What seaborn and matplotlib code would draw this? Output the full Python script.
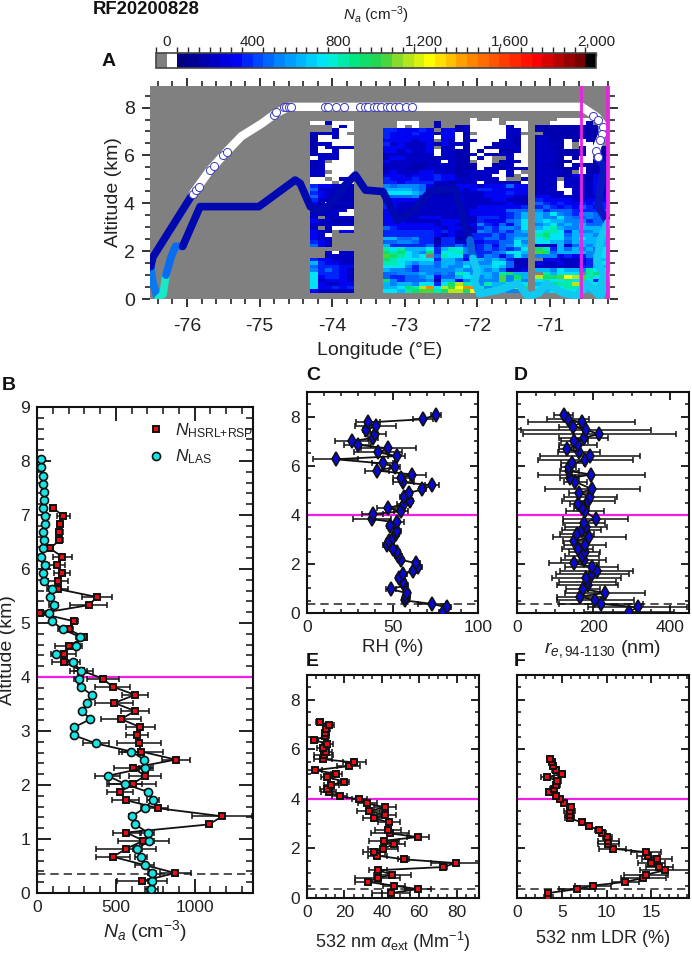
import numpy as np
import pandas as pd
import matplotlib
matplotlib.use("Agg")
import matplotlib.pyplot as plt
from matplotlib.colors import ListedColormap, BoundaryNorm, LinearSegmentedColormap
from matplotlib.lines import Line2D
from matplotlib.ticker import MultipleLocator, FuncFormatter
import seaborn as sns

sns.set_theme(style="ticks")
FONT = "Liberation Sans"
plt.rcParams.update({
    "font.family": [FONT, "DejaVu Sans"],
    "mathtext.fontset": "custom",
    "mathtext.rm": FONT,
    "mathtext.it": FONT + ":italic",
    "mathtext.bf": FONT + ":bold",
    "text.color": "#222222",
    "axes.labelcolor": "#222222",
    "xtick.labelcolor": "#222222",
    "ytick.labelcolor": "#222222",
})

# ------------------------------------------------------------ panel A values
CODE = dict(a=170, b=230, c=300, d=380, e=450, f=530, g=620, h=720, i=800, j=900,
            k=1000, l=1100, m=1200, n=1400, o=1550, w=25)
BLOCK1_LON, BLOCK2_LON, BLOCK3_LON = -74.3, -73.3, -71.2
block1 = """......
wwbwww
...wbw
...bww
abbbw.
awwbww
awwwww
abbwww
awbbbb
awwbww
abbbww
wbbbww
bb.www
abwwww
bbwwww
bb.www
bbwwww
ww.wbb
www.ww
dccbbb
ebbbba
dcbbba
ecbbab
dbbaaa
cawbbb
cbbaaa
cbbbbw
bbbbww
b.bbbb
cbbaaa
bbbbbb
b.bwww
cbb.cc
cbw...
cbb...
dcb...
ecb...
......
..bwbb
..bbbb
dccbbb
gdccbb
edddcc
fdedcb
hdddcb
hcddcb
hbcccb
hcbbcc
hccdcd
cbbbbb""".split("\n")
block2_west = """..........
..www..a..
..w.w..a..
ddcccdc.cc
dcccdccacc
dccccccwcc
ccccbcc.cb
dbcbbbcacb
cccbbbc.bb
ccbcbbcwbb
bbbbbbbwbb
bccbbbbabb
cbbbbbbbwb
bbbbaabbbb
bbbaaabbbb
bcbbbccbbb
cccbcccdcc
dcccdccdcc
ddcddddbba
fefffecabb
ggggfeaaab
hhhhgfbaaa
eeeefcbbab
cccccbbbbb
dcbbbbbbbb
dcbbbbbbbb
ccbbbbbbbb
ccbbbbbbbb
cccbbcccbb
cccbbbbbcc
cccccccbcc
edccccccbc
dddddddcdc
dddddddcbc
ggeefddadd
eeffeddadd
gdddddebdd
ihiggghdgi
jijhgfjdhh
kjihgh.eih
jihhhhhdgg
iihgfggegg
hhhfdffegf
gffedfffff
eefffgfefe
eddeefgcee
jfdeeefagg
gfggfhhdhj
gghjilnhlk
hhgijkkijl""".split("\n")
block2_east = """..w..w....
..wwww.www
abwwwwwbww
abwwwwwbbw
wa.wwwwbb.
wawwwwwbaw
wabwwwbbaw
bawwwabbaw
wawwabbbbw
aawawwaabw
aabwbabbww
aawbw..bww
aa.ww.abbw
aaawwabbww
aaawababbb
abbbbbwbw.
aabbbwwb.w
bbbbbbw..b
bbbwbbbbbw
cccbcccecc
cbcddccccc
bbbbcccdcc
cbbbccccbb
cbbbbccbbb
bbbbbbbcbb
bbbccccccd
bbccccceee
bbcccccdeg
bbbdddcdeg
cbbdcccefh
bbcfdcecfh
cbbdedffeh
bbbfededfg
bbdddedeff
abddeedegg
bbccddeehf
edcdecefhg
hfcdededeh
ifdddefhhg
hdedfecehf
ecggfgfdbb
fggffhheab
fhfgghgebb
gffgfgebbc
ihfggfijgg
ghhfgfkfjg
cfgfffkfif
lihfigghhh
mnnifggilj
ljmfgfgffg""".split("\n")
block3 = """...wwwww..
..wwwwwa..
aaaaaaaaa.
aaaaaaaaa.
.aaaaaaaa.
bbaaaaaaa.
bbaawawaa.
bbbaw.wwa.
bbaaw.awwa
bbbaaaawaa
bbbaaabwaa
bbbawawwab
bbbaawwwab
bbaawaaaab
bbbaaawaac
bbbba.waac
bbbaacbbcc
bbb.bbbacb
bbbwbbbbcc
bbbwbbbbcc
bbbwwbbbcb
bbbbwbbbcb
ccbbbbbbbc
dccccbbccc
edcdccdcdd
dedcdcedcd
fdeeedddde
gfhfedffee
gffhfeefee
ghggfffdee
fghfgfgeef
ghigffgggf
hiihdgffge
ijhhegggfg
hihhfghggg
hhggeggggg
babgbegfgg
jidgegfgeh
kjeggggffh
fffcdcdfgh
.ccbbbcdfg
cbbcbbcdgh
bbbbbbddgg
ggfhggfihh
.ighhh.ijh
ljjkmlkihh
hihhihkhde
ghjiilnhhg
hhghiinfhg
gghhhhhggg""".split("\n")

# flight track waypoints (lon, alt) grouped by drawn value
track_cyan_w = ([-76.40, -76.33, -76.29], [0.0, 0.2, 1.0])
track_blue_w = ([-76.41, -76.47, -76.50], [0.05, 0.7, 1.35])
track_blue_e = ([-76.29, -76.22, -76.16, -76.06], [1.0, 1.75, 2.2, 2.2])
track_navy_up = ([-76.50, -76.47, -75.92], [1.35, 1.75, 4.4])
track_white = ([-75.92, -75.68, -75.44, -75.25, -74.97, -74.78, -74.6, -70.56, -70.35, -70.27, -70.27, -70.35, -70.35],
               [4.4, 5.4, 6.2, 6.8, 7.33, 7.75, 8.03, 8.03, 7.6, 7.26, 6.9, 6.35, 5.95])
track_navy_low = ([-76.06, -75.82, -75.01, -74.82, -74.51, -74.44, -74.3, -74.16, -74.01, -73.82, -73.68,
                   -73.54, -73.3, -73.1, -72.87, -72.63, -72.3, -72.16, -72.1],
                  [2.2, 3.86, 3.86, 4.28, 4.97, 4.83, 3.86, 3.65, 4.0, 4.76, 5.18,
                   4.55, 4.49, 3.3, 3.72, 4.55, 4.6, 3.0, 2.47])
track_mid = ([-72.1, -72.06], [2.47, 1.7])
track_cyan = ([-72.06, -72.0, -72.04, -71.97, -71.73, -71.44, -71.3, -71.15, -71.05, -70.82, -70.63, -70.49, -70.3, -70.2],
              [1.7, 1.15, 0.75, 0.22, 0.35, 0.65, 0.1, 0.25, 0.65, 0.25, 0.12, 0.65, 0.1, 1.0])
track_east_navy = ([-70.35, -70.25, -70.3, -70.33, -70.2], [5.95, 5.5, 4.7, 3.86, 3.2])
track_east_cyan = ([-70.2, -70.3, -70.35, -70.25, -70.35], [3.2, 2.5, 1.6, 0.95, 0.25])
ring_lon = [-74.66, -74.63, -74.6, -74.57, -74.1, -74.06, -73.95, -73.83, -73.62, -73.55, -73.5, -73.42, -73.38,
            -73.33, -73.25, -73.2, -73.13, -73.08, -72.98, -72.9, -75.92, -75.88, -75.83, -75.68, -75.63, -75.5, -75.45, -74.8, -74.77,
            -70.4, -70.33, -70.27, -70.28, -70.31, -70.36, -70.34]
ring_alt = [8.03, 8.03, 8.03, 8.03, 8.03, 8.03, 8.03, 8.03, 8.03, 8.03, 8.03, 8.03, 8.03,
            8.03, 8.03, 8.03, 8.03, 8.03, 8.03, 8.03, 4.4, 4.55, 4.7, 5.4, 5.55, 6.0, 6.15, 7.7, 7.8,
            7.65, 7.5, 7.2, 6.9, 6.65, 6.2, 5.95]
flip_lons = [-70.57, -70.21]
cbar_ticks = [0, 400, 800, 1200, 1600, 2000]
marker_alt_line, boundary_alt = 4.0, 0.36

# ------------------------------------------------------------ panel B values
las_alt = [0.07, 0.22, 0.37, 0.52, 0.67, 0.82, 0.97, 1.12, 1.27, 1.42, 1.57, 1.72, 1.87, 2.02, 2.17, 2.32, 2.47, 2.62,
           2.77, 2.92, 3.07, 3.22, 3.37, 3.52, 3.67, 3.82, 3.97, 4.12, 4.27, 4.42, 4.57, 4.74, 4.88, 5.03, 5.18, 5.33,
           5.48, 5.63, 5.78, 5.93, 6.08, 6.23, 6.38, 6.53, 6.68, 6.83, 6.98, 7.13, 7.28, 7.43, 7.58, 7.73, 7.88, 8.03]
las_val = [725, 731, 731, 684, 660, 637, 712, 701, 624, 600, 682, 735, 705, 557, 449, 686, 680, 598,
           374, 234, 237, 338, 286, 320, 346, 277, 264, 277, 230, 120, 245, 275, 166, 95, 73, 105,
           80, 92, 43, 41, 52, 26, 37, 45, 41, 50, 52, 41, 45, 43, 39, 41, 26, 28]
las_err = [40, 25, 25, 60, 40, 30, 30, 40, 15, 15, 20, 40, 20, 110, 80, 40, 15, 60,
           85, 15, 15, 15, 15, 15, 15, 20, 30, 40, 40, 15, 30, 30, 30, 10, 10, 30,
           8, 8, 8, 8, 20, 8, 8, 8, 8, 8, 8, 8, 5, 5, 5, 5, 5, 5]
hsrl_alt = [0.22, 0.37, 0.67, 0.82, 0.97, 1.12, 1.27, 1.42, 1.57, 1.72, 1.87, 2.02, 2.17, 2.32, 2.47, 2.62, 2.77, 2.92,
            3.07, 3.22, 3.37, 3.52, 3.67, 3.82, 3.97, 4.12, 4.27, 4.42, 4.57, 4.74, 4.88, 5.03, 5.18, 5.33, 5.48, 5.63,
            5.78, 5.93, 6.08, 6.23, 6.38, 6.53, 6.68, 6.83, 6.98, 7.13]
hsrl_val = [667, 877, 482, 566, 675, 566, 1090, 1176, 768, 563, 527, 606, 684, 611, 880, 660, 647, 634,
            656, 533, 622, 490, 622, 480, 417, 282, 174, 170, 200, 297, 202, 237, 20, 327, 381, 131,
            133, 157, 129, 159, 82, 142, 142, 146, 168, 101]
hsrl_err = [160, 100, 105, 190, 160, 85, 10, 190, 65, 85, 85, 150, 100, 125, 90, 140, 140, 70,
            90, 125, 90, 120, 85, 110, 100, 75, 80, 80, 85, 15, 25, 20, 30, 120, 95, 65,
            65, 50, 50, 60, 20, 20, 20, 20, 40, 15]

# ------------------------------------------------------------ panel C, D values
rh_alt = [0.05, 0.23, 0.37, 0.51, 0.65, 0.81, 0.97, 1.12, 1.27, 1.41, 1.57, 1.73, 1.86, 2.03, 2.16, 2.32, 2.49, 2.62,
          2.76, 2.92, 3.07, 3.22, 3.35, 3.53, 3.69, 3.82, 4.03, 4.14, 4.28, 4.43, 4.58, 4.74, 4.89, 5.03, 5.2, 5.32,
          5.5, 5.64, 5.8, 5.95, 6.09, 6.26, 6.39, 6.55, 6.7, 6.85, 7.0, 7.13, 7.28, 7.46, 7.6, 7.76, 7.89, 8.07]
rh_val = [79.4, 82, 73, 57.5, 58, 58.5, 49, 57, 56, 53.8, 56.3, 62, 65, 64, 55, 53.4, 52.6, 50.5,
          46.6, 48.2, 50.3, 52, 52.8, 48.7, 52.8, 37.9, 38.4, 55.1, 47.2, 56.9, 60, 56.5, 59.4, 67.4, 73.2, 56.3,
          55, 61.6, 41.2, 51.5, 44.3, 16.7, 52.4, 41.4, 47.6, 29.7, 26.2, 38.8, 40, 34.6, 40.2, 35.5, 67.8, 75.3]
rh_err = [2, 2, 8, 2, 2, 2, 3, 2, 2, 2, 2, 2, 2, 2, 2, 2, 2, 2,
          2, 2, 2, 2, 2, 2, 4, 11, 6, 4, 6, 4, 2, 2, 2, 2, 4, 6,
          5, 8, 7, 3, 6, 13, 5, 14, 16, 8, 10, 3, 6, 2, 12, 7, 6, 3]
re_alt = [0.05, 0.23, 0.37, 0.51, 0.67, 0.82, 0.97, 1.14, 1.28, 1.41, 1.57, 1.73, 1.87, 2.03, 2.16, 2.32, 2.47, 2.62,
          2.77, 2.93, 3.08, 3.23, 3.37, 3.51, 3.68, 3.83, 4.14, 4.26, 4.43, 4.58, 4.74, 4.89, 5.04, 5.34, 5.49, 5.64,
          5.78, 5.93, 6.09, 6.24, 6.39, 6.54, 6.69, 6.84, 7.0, 7.14, 7.28, 7.46, 7.59, 7.76, 7.89, 8.07]
re_val = [292, 316, 219, 205, 165, 231, 172, 185, 184, 181, 197, 208, 195, 150, 174, 170, 177, 159,
          177, 150, 189, 157, 169, 181, 175, 206, 178, 169, 159, 187, 192, 162, 197, 153, 138, 194,
          137, 135, 145, 179, 191, 163, 130, 160, 150, 174, 215, 181, 146, 169, 134, 122]
re_err = [118, 130, 110, 100, 60, 105, 45, 80, 75, 90, 95, 95, 70, 65, 60, 45, 40, 40,
          55, 30, 95, 45, 50, 55, 55, 85, 50, 20, 20, 70, 70, 25, 125, 30, 25, 140,
          25, 20, 30, 125, 130, 55, 20, 50, 35, 65, 200, 170, 35, 140, 55, 25]

# ------------------------------------------------------------ panel E, F values
ext_alt = [0.2, 0.36, 0.5, 0.65, 0.81, 0.94, 1.12, 1.25, 1.41, 1.56, 1.71, 1.85, 1.99, 2.16, 2.31, 2.46, 2.61, 2.76,
           3.05, 3.21, 3.36, 3.51, 3.66, 3.82, 3.98, 4.11, 4.26, 4.4, 4.56, 4.7, 4.88, 5.01, 5.16, 5.32, 5.47, 5.6,
           5.77, 5.91, 6.07, 6.21, 6.38, 6.52, 6.65, 6.81, 6.98, 7.12]
ext_val = [45, 59.3, 46.4, 32.5, 37.9, 45.7, 37.9, 73, 79.5, 51.8, 37.7, 35.7, 40.5, 46.4, 41, 59.3, 44.3, 43.2,
           44, 36, 41.6, 32.9, 41.6, 32.3, 27.9, 17.5, 11.6, 10.7, 13, 19.6, 10.7, 15.7, 4.1, 22.3, 25.4, 8.6,
           8.9, 10.4, 8.4, 10.9, 3.9, 9.8, 9.8, 10.4, 11.6, 6.8]
ext_err = [10, 7, 6, 7, 12, 10, 5, 2, 13, 3, 5, 6, 8, 6, 8, 6, 10, 7,
           6, 6, 6, 6, 6, 5, 4, 4, 4, 4, 4, 3, 3, 3, 4, 6, 6, 5,
           5, 3, 3, 3, 2, 2, 2, 2, 3, 2]
ldr_alt = [0.04, 0.2, 0.36, 0.5, 0.65, 0.81, 0.94, 1.12, 1.25, 1.41, 1.56, 1.71, 1.85, 1.99, 2.16, 2.31, 2.46, 2.61,
           2.76, 2.9, 3.05, 3.21, 3.36, 3.51, 3.66, 3.82, 3.98, 4.11, 4.26, 4.4, 4.56, 4.72, 4.88, 5.01, 5.16, 5.31,
           5.47, 5.63]
ldr_val = [3.5, 3.5, 6.7, 8.5, 12.1, 14.1, 14.4, 16.5, 15.9, 15, 15.6, 14.6, 14.4, 10.7, 10.2, 10.2, 10.1, 9.5,
           9.1, 8, 7.3, 5.9, 5.9, 5.9, 6, 5.3, 4.8, 4.3, 3.6, 4.1, 4.4, 4.5, 3.4, 5, 4.3, 4,
           3.9, 3.7]
ldr_err = [0.2, 0.2, 2, 2, 1.5, 2.5, 2.5, 2.8, 1.5, 1.5, 1.7, 1.2, 1.7, 1.5, 1.2, 1.2, 0.5, 0.4,
           0.4, 0.3, 0.3, 0.5, 0.5, 0.6, 0.4, 0.3, 0.3, 0.3, 0.4, 0.4, 0.4, 0.4, 0.7, 0.4, 0.4, 0.3,
           0.3, 0.2]

# ------------------------------------------------------------ helpers
W, H = 692, 957
fig = plt.figure(figsize=(W / 100, H / 100), dpi=100, facecolor="white")


def rect(l, t, r, b):
    return [l / W, 1 - b / H, (r - l) / W, (b - t) / H]


MAGENTA = "#f01ee6"
INK = "#111111"
RED, CYAN, BLUE = "#f00a14", "#18e6e6", "#0808d8"


def style_profile(ax, xlim, xmaj, xmin, ymaj, ymin, major, minor, fs, show_y=True):
    ax.set_xlim(*xlim)
    ax.set_ylim(0, 9)
    ax.xaxis.set_major_locator(MultipleLocator(xmaj))
    ax.xaxis.set_minor_locator(MultipleLocator(xmin))
    ax.yaxis.set_major_locator(MultipleLocator(ymaj))
    ax.yaxis.set_minor_locator(MultipleLocator(ymin))
    ax.tick_params(which="major", direction="in", top=True, right=True, length=major, width=1.3,
                   labelsize=fs, color=INK, pad=5, labelleft=show_y)
    ax.tick_params(which="minor", direction="in", top=True, right=True, length=minor, width=1.1, color=INK)
    for s in ax.spines.values():
        s.set_linewidth(1.5)
        s.set_color(INK)
        s.set_visible(True)
    ax.axhline(marker_alt_line, color=MAGENTA, lw=1.6, zorder=1.5)
    ax.axhline(boundary_alt, color="#333333", lw=1.2, ls=(0, (5, 3)), zorder=1.5)


def profile(ax, val, alt, err, marker, face, size, mew=1.4, cap=2.2):
    ax.errorbar(val, alt, xerr=err, fmt="none", ecolor=INK, elinewidth=1.1, capsize=cap, capthick=1.1, zorder=2)
    sns.lineplot(x=val, y=alt, ax=ax, sort=False, estimator=None, errorbar=None, color=INK, lw=1.3,
                 marker=marker, markerfacecolor=face, markeredgecolor=INK, markeredgewidth=mew,
                 markersize=size, zorder=3, legend=False)
    ax.set_xlabel("")
    ax.set_ylabel("")


# ------------------------------------------------------------ panel A
levels = np.arange(-50, 2001, 50)
anchors = [(0.00, "#000080"), (0.053, "#0000b0"), (0.13, "#0000f0"), (0.18, "#003cff"), (0.24, "#0082ff"),
           (0.31, "#00beff"), (0.36, "#00f0f0"), (0.43, "#00e682"), (0.50, "#28d246"), (0.547, "#96dc28"),
           (0.626, "#ffff00"), (0.71, "#ff9600"), (0.80, "#ff4600"), (0.89, "#ff0000"), (1.00, "#780000")]
ramp = LinearSegmentedColormap.from_list("na", anchors)
cols = ["#808080", "#ffffff"] + [ramp(v) for v in np.linspace(0, 1, len(levels) - 4)] + ["#000000"]
cmap = ListedColormap(cols)
norm = BoundaryNorm(levels, cmap.N)

LON0, DLON = -76.5, 0.1
ALT_TOP, DALT = 7.57, 0.146
grid = np.full((50, 64), np.nan)


def fill(block, lon):
    i0 = int(round((lon - LON0) / DLON))
    for r, row in enumerate(block):
        for c, ch in enumerate(row):
            if ch in CODE:
                grid[r, i0 + c] = CODE[ch]


fill(block1, BLOCK1_LON)
fill(block2_west, BLOCK2_LON)
fill(block2_east, BLOCK2_LON + 1.0)
fill(block3, BLOCK3_LON)

XLIM_A, YLIM_A = (-76.51, -70.17), (0, 8.9)
rect_a = rect(150, 86, 610, 299)
ax_h = fig.add_axes(rect_a, facecolor="#808080")
cax = fig.add_axes(rect(156, 53, 596, 68))
sns.heatmap(pd.DataFrame(grid), ax=ax_h, cmap=cmap, norm=norm, cbar_ax=cax, xticklabels=False, yticklabels=False,
            cbar_kws=dict(orientation="horizontal", ticks=cbar_ticks,
                          format=FuncFormatter(lambda v, p: f"{int(v):,}")))
ax_h.set_xlim((XLIM_A[0] - LON0) / DLON, (XLIM_A[1] - LON0) / DLON)
ax_h.set_ylim((ALT_TOP - YLIM_A[0]) / DALT, (ALT_TOP - YLIM_A[1]) / DALT)
ax_h.tick_params(left=False, bottom=False)
for s in ax_h.spines.values():
    s.set_visible(False)

cax.xaxis.set_ticks_position("top")
cax.tick_params(axis="x", direction="in", length=2.5, width=1, labelsize=11, pad=3, color=INK)
cb = ax_h.collections[0].colorbar
cb.outline.set_linewidth(1.2)
cb.outline.set_edgecolor("#444444")
fig.text(376 / W, 1 - 15 / H, r"$\mathit{N}_{\mathit{a}}$ (cm$^{-3}$)", ha="center", va="center", fontsize=11)

ax = fig.add_axes(rect_a, facecolor="none")
TRACK_LW = 5.5


def track(seg, color, lw=TRACK_LW):
    sns.lineplot(x=seg[0], y=seg[1], ax=ax, sort=False, estimator=None, errorbar=None, color=color, lw=lw,
                 solid_capstyle="round", solid_joinstyle="round", legend=False)


track(track_blue_w, "#0a78f0")
track(track_cyan_w, "#18e8c8")
track(track_blue_e, "#0a6cf0")
track(track_navy_up, "#0008b0")
track(track_white, "white", lw=6.0)
sns.scatterplot(x=ring_lon, y=ring_alt, ax=ax, s=34, facecolor="white", edgecolor="#3a3ac0", linewidth=0.7,
                zorder=3, legend=False)
track(track_navy_low, "#0008b0")
track(track_mid, "#0a60d8")
track(track_cyan, "#10c8f0")
track(track_east_navy, "#0818c0")
track(track_east_cyan, "#10c8f0")
for lon in flip_lons:
    ax.axvline(lon, color=MAGENTA, lw=2.0, zorder=5)
ax.set_xlim(*XLIM_A)
ax.set_ylim(*YLIM_A)
ax.xaxis.set_minor_locator(MultipleLocator(0.2))
ax.yaxis.set_major_locator(MultipleLocator(2))
ax.yaxis.set_minor_locator(MultipleLocator(0.5))
ax.tick_params(which="major", direction="out", top=True, right=True, length=6, width=1.2, labelsize=14, color=INK, pad=5)
ax.tick_params(axis="x", which="major", pad=8)
ax.tick_params(which="minor", direction="out", top=True, right=True, length=3.5, width=1.1, color=INK)
ax.set_xticks([-76, -75, -74, -73, -72, -71])
ax.set_xticklabels(["-76", "-75", "-74", "-73", "-72", "-71"])
for s in ax.spines.values():
    s.set_visible(False)
ax.set_xlabel("Longitude (°E)", fontsize=14, labelpad=5)
ax.set_ylabel("Altitude (km)", fontsize=14, labelpad=1)

# ------------------------------------------------------------ panel B
axb = fig.add_axes(rect(37, 407, 253, 893))
SQ, CIR, DIA = 4.2, 5.8, 7.0
profile(axb, hsrl_val, hsrl_alt, hsrl_err, "s", RED, SQ)
profile(axb, las_val, las_alt, las_err, "o", CYAN, CIR, mew=1.2)
style_profile(axb, (0, 1370), 500, 100, 1, 0.2, 10, 5, 12.5)
axb.set_xlabel(r"$\mathit{N}_{\mathit{a}}$ (cm$^{-3}$)", fontsize=14, labelpad=2)
axb.set_ylabel("Altitude (km)", fontsize=14)
axb.yaxis.set_label_coords(-0.098, 0.5)
handles = [Line2D([], [], ls="", marker="s", mfc=RED, mec=INK, mew=1.4, ms=SQ),
           Line2D([], [], ls="", marker="o", mfc=CYAN, mec=INK, mew=1.2, ms=CIR)]
axb.legend(handles, [r"$\mathit{N}_{\mathrm{HSRL{+}RSP}}$", r"$\mathit{N}_{\mathrm{LAS}}$"], frameon=False, fontsize=12.5,
           loc="upper left", bbox_to_anchor=(0.44, 0.985), labelspacing=0.45, handletextpad=0.1, borderaxespad=0)

# ------------------------------------------------------------ panels C-F
axc = fig.add_axes(rect(307, 392, 478, 613))
profile(axc, rh_val, rh_alt, rh_err, "d", BLUE, DIA, mew=1.2)
style_profile(axc, (0, 100), 50, 10, 2, 0.5, 6, 3, 12.5)
axc.set_xlabel("RH (%)", fontsize=13.5, labelpad=3)

axd = fig.add_axes(rect(517, 392, 689, 613))
profile(axd, re_val, re_alt, re_err, "d", BLUE, DIA, mew=1.2)
style_profile(axd, (0, 450), 200, 50, 2, 0.5, 6, 3, 12.5, show_y=False)
axd.set_xlabel(r"$\mathit{r}_{\mathit{e},\mathrm{94\text{-}1130}}$ (nm)", fontsize=14, labelpad=2)

axe = fig.add_axes(rect(307, 675, 479, 898))
profile(axe, ext_val, ext_alt, ext_err, "s", RED, SQ)
style_profile(axe, (0, 92), 20, 5, 2, 0.5, 6, 3, 12.5)
axe.set_xlabel(r"532 nm $\alpha_{\mathrm{ext}}$ (Mm$^{-1}$)", fontsize=13, labelpad=7)

axf = fig.add_axes(rect(517, 675, 689, 898))
profile(axf, ldr_val, ldr_alt, ldr_err, "s", RED, SQ)
style_profile(axf, (0, 19.2), 5, 1, 2, 0.5, 6, 3, 12.5, show_y=False)
axf.set_xlabel("532 nm LDR (%)", fontsize=13, labelpad=7)

# ------------------------------------------------------------ text
fig.text(93 / W, 1 - 10 / H, "RF20200828", fontsize=13.3, fontweight="bold", va="center", color="#111111")
for letter, x, y in [("A", 109, 61), ("B", 9, 386), ("C", 313, 376), ("D", 521, 376), ("E", 312, 662), ("F", 520, 662)]:
    fig.text(x / W, 1 - y / H, letter, fontsize=14, fontweight="bold", ha="center", va="center", color="#111111")

fig.savefig("out.png", dpi=100)
